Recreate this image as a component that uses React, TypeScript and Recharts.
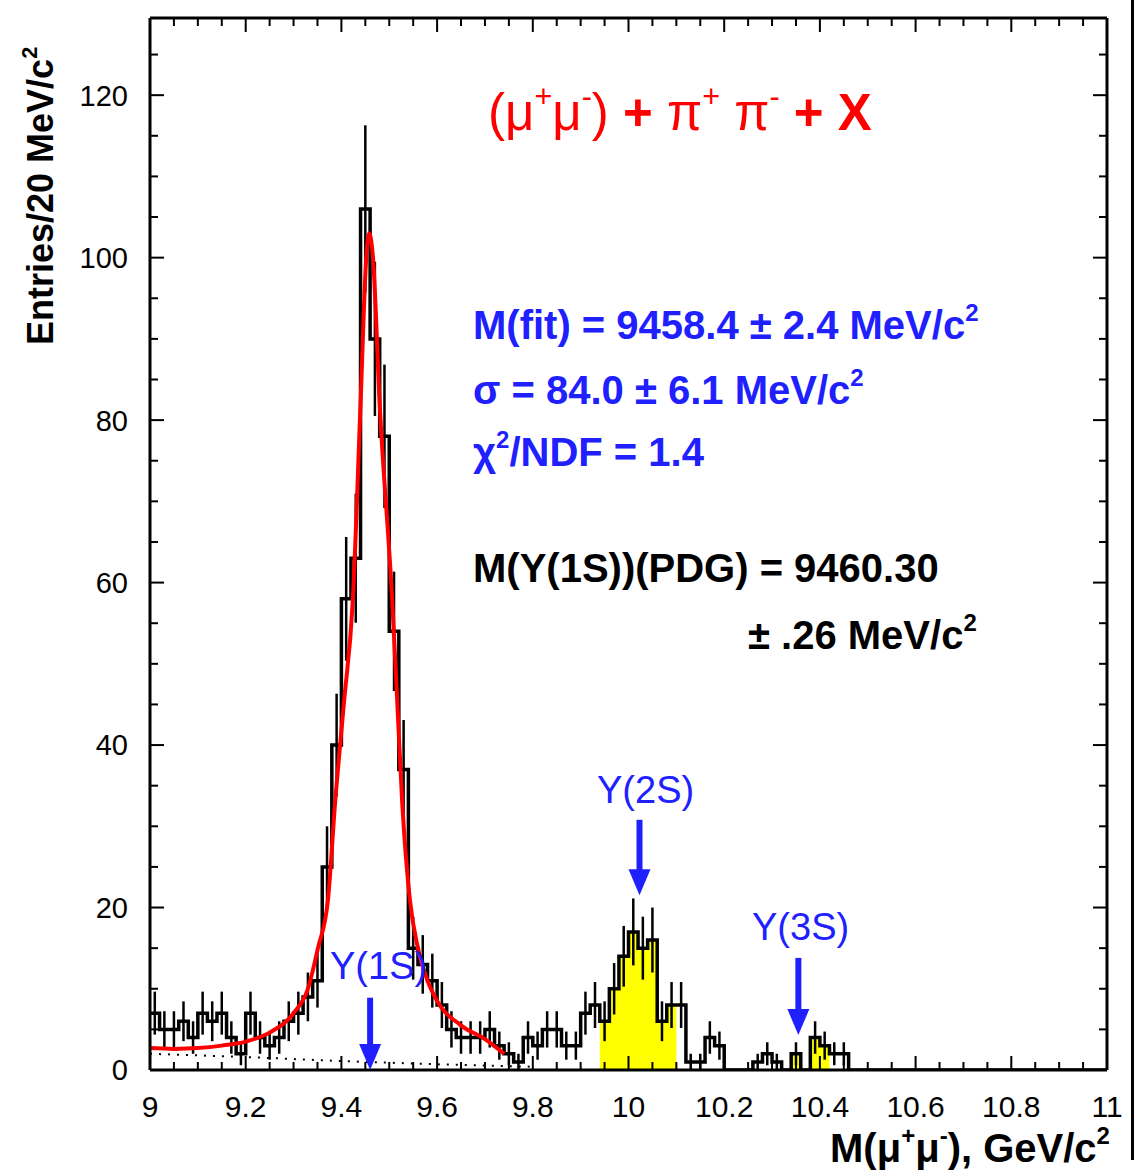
import React from 'react';
import { ComposedChart, Line, Area, XAxis, YAxis, ReferenceLine, ReferenceDot, ErrorBar } from 'recharts';

document.body.style.margin = '0';

// 20 MeV bins from 9.00 GeV
const BIN_LO = 9.0;
const BIN_W = 0.02;
const counts = [
  7, 5, 5, 6, 4, 7, 6, 7, 4, 2,
  7, 4, 3, 4, 6, 7, 9, 11, 25, 40,
  58, 63, 106, 90, 78, 54, 37, 15, 13, 11,
  8, 5, 4, 4, 4, 5, 3, 2, 1, 4,
  3, 5, 5, 3, 3, 7, 8, 6, 10, 14,
  17, 15, 16, 6, 8, 8, 1, 1, 4, 3,
  0, 0, 0, 1, 2, 1, 0, 2, 0, 4,
  3, 2, 2, 0, 0, 0, 0, 0, 0, 0,
  0, 0, 0, 0, 0, 0, 0, 0, 0, 0,
  0, 0, 0, 0, 0, 0, 0, 0, 0, 0,
];
// bins filled yellow (2S and 3S regions)
const yellowBins = [47, 48, 49, 50, 51, 52, 53, 54, 67, 68, 69, 70];

// red fit curve
const fitMass = [9.0, 9.05, 9.1, 9.15, 9.2, 9.25, 9.3, 9.33, 9.351, 9.372, 9.387, 9.405, 9.424, 9.44, 9.452, 9.458, 9.466, 9.48, 9.506, 9.517, 9.527, 9.543, 9.56, 9.58, 9.6, 9.65, 9.7, 9.74];
const fitValue = [2.7, 2.6, 2.7, 3.0, 3.5, 4.6, 7.0, 10, 15, 21, 33, 45, 58, 82, 100, 103, 100, 82, 58, 45, 33, 21, 15, 11, 8.5, 5.5, 3.8, 2.0];

// dotted background component
const bkgMass = [9.0, 9.2, 9.4, 9.6, 9.8];
const bkgValue = [2.0, 1.6, 1.1, 0.7, 0.4];

const xMajor = [9, 9.2, 9.4, 9.6, 9.8, 10, 10.2, 10.4, 10.6, 10.8, 11];
const yMajor = [0, 20, 40, 60, 80, 100, 120];

const peaks = [
  { name: 'Υ(1S)', mass: 9.46, top: 8.9, tip: 0 },
  { name: 'Υ(2S)', mass: 10.023, top: 30.8, tip: 21.5 },
  { name: 'Υ(3S)', mass: 10.355, top: 13.8, tip: 4.3 },
];

const W = 1141;
const H = 1171;
const M = { top: 18, right: 34, left: 0, bottom: 0 };
const Y_W = 150;
const X_H = 101;
const PLOT_W = W - M.right - Y_W;
const PLOT_H = H - M.top - X_H;
const Y_MAX = 129.5;
const BLUE = '#2020ff';
const FONT = '"Liberation Sans", Arial, sans-serif';

const histData = counts.map((v, i) => ({ x: +(BIN_LO + i * BIN_W).toFixed(2), y: v }));
histData.push({ x: 11, y: counts[counts.length - 1] });
const yellowData = counts.map((v, i) => ({ x: +(BIN_LO + i * BIN_W).toFixed(2), y: yellowBins.includes(i) ? v : 0 }));
yellowData.push({ x: 11, y: 0 });
const errData = counts
  .map((v, i) => ({ x: +(BIN_LO + (i + 0.5) * BIN_W).toFixed(3), y: v, err: Math.sqrt(v) }))
  .filter((d) => d.y > 0);
const fitData = fitMass.map((m, i) => ({ x: m, y: fitValue[i] }));
const bkgData = bkgMass.map((m, i) => ({ x: m, y: bkgValue[i] }));

const xTicks = Array.from({ length: 41 }, (_, i) => +(9 + i * 0.05).toFixed(2));
const yTicks = Array.from({ length: 26 }, (_, i) => i * 5);

const isMajor = (list: number[], v: number) => list.some((m) => Math.abs(m - v) < 1e-6);

function XTick(props: any) {
  const { x, y, payload } = props;
  const major = isMajor(xMajor, payload.value);
  const len = major ? 14 : 8;
  return (
    <g>
      <line x1={x} y1={y} x2={x} y2={y - len} stroke="#000" strokeWidth={2} />
      <line x1={x} y1={y - PLOT_H} x2={x} y2={y - PLOT_H + len} stroke="#000" strokeWidth={2} />
      {major && (
        <text x={x} y={y + 47} textAnchor="middle" fontSize={30} fontFamily={FONT} fill="#000">
          {String(+payload.value.toFixed(1))}
        </text>
      )}
    </g>
  );
}

function YTick(props: any) {
  const { x, y, payload } = props;
  const major = isMajor(yMajor, payload.value);
  const len = major ? 14 : 8;
  return (
    <g>
      <line x1={x} y1={y} x2={x + len} y2={y} stroke="#000" strokeWidth={2} />
      <line x1={x + PLOT_W} y1={y} x2={x + PLOT_W - len} y2={y} stroke="#000" strokeWidth={2} />
      {major && (
        <text x={x - 22} y={y} dy="0.36em" textAnchor="end" fontSize={29} fontFamily={FONT} fill="#000">
          {payload.value}
        </text>
      )}
    </g>
  );
}

const arrowHead = (props: any) => {
  const { cx, cy } = props;
  return <polygon points={`${cx - 11},${cy - 26} ${cx + 11},${cy - 26} ${cx},${cy}`} fill={BLUE} />;
};

const txt = (top: number, left: number, size: number, color: string, bold: boolean): React.CSSProperties => ({
  position: 'absolute',
  top,
  left,
  fontSize: size,
  lineHeight: 1,
  color,
  fontWeight: bold ? 'bold' : 'normal',
  fontFamily: FONT,
  whiteSpace: 'nowrap',
});

const sup: React.CSSProperties = { fontSize: '0.6em', verticalAlign: '0.75em', lineHeight: 0 };

export default function App() {
  return (
    <div style={{ position: 'relative', width: W, height: H, background: '#fff', overflow: 'hidden' }}>
      <ComposedChart width={W} height={H} margin={M}>
        <XAxis
          type="number"
          dataKey="x"
          domain={[9, 11]}
          ticks={xTicks}
          interval={0}
          allowDataOverflow
          height={X_H}
          tickSize={0}
          tickMargin={0}
          tickLine={false}
          tick={<XTick />}
          axisLine={{ stroke: '#000', strokeWidth: 3 }}
        />
        <YAxis
          type="number"
          domain={[0, Y_MAX]}
          ticks={yTicks}
          interval={0}
          allowDataOverflow
          width={Y_W}
          tickSize={0}
          tickMargin={0}
          tickLine={false}
          tick={<YTick />}
          axisLine={{ stroke: '#000', strokeWidth: 3 }}
        />
        <ReferenceLine y={Y_MAX} stroke="#000" strokeWidth={3} />
        <ReferenceLine x={11} stroke="#000" strokeWidth={3} />
        <Area
          data={yellowData}
          dataKey="y"
          type="stepAfter"
          fill="#ffff00"
          fillOpacity={1}
          stroke="none"
          isAnimationActive={false}
        />
        <Line
          data={bkgData}
          dataKey="y"
          type="linear"
          stroke="#000"
          strokeWidth={2}
          strokeDasharray="2 7"
          dot={false}
          isAnimationActive={false}
        />
        <Line
          data={histData}
          dataKey="y"
          type="stepAfter"
          stroke="#000"
          strokeWidth={3.5}
          dot={false}
          isAnimationActive={false}
        />
        <Line data={errData} dataKey="y" stroke="none" dot={false} isAnimationActive={false}>
          <ErrorBar dataKey="err" direction="y" width={0} stroke="#000" strokeWidth={2.5} />
        </Line>
        <Line
          data={fitData}
          dataKey="y"
          type="monotone"
          stroke="#ff0000"
          strokeWidth={4}
          dot={false}
          isAnimationActive={false}
        />
        {peaks.map((p) => (
          <ReferenceLine
            key={p.name + 'l'}
            segment={[{ x: p.mass, y: p.top }, { x: p.mass, y: p.tip + 2 }]}
            stroke={BLUE}
            strokeWidth={6}
          />
        ))}
        {peaks.map((p) => (
          <ReferenceDot key={p.name + 'h'} x={p.mass} y={p.tip} r={1} shape={arrowHead} />
        ))}
      </ComposedChart>

      <div style={txt(87, 488, 51, '#ff0000', false)}>
        (μ<span style={sup}>+</span>μ<span style={sup}>-</span>) <b>+</b> π<span style={sup}>+</span> π
        <span style={sup}>-</span> <b>+ X</b>
      </div>

      <div style={txt(305, 473, 40, BLUE, true)}>
        M(fit) = 9458.4 ± 2.4 MeV/c<span style={sup}>2</span>
      </div>
      <div style={txt(370, 473, 40, BLUE, true)}>
        σ = 84.0 ± 6.1 MeV/c<span style={sup}>2</span>
      </div>
      <div style={txt(432, 473, 40, BLUE, true)}>
        χ<span style={sup}>2</span>/NDF = 1.4
      </div>
      <div style={txt(548, 473, 40, '#000', true)}>M(Υ(1S))(PDG) = 9460.30</div>
      <div style={txt(615, 748, 40, '#000', true)}>
        ± .26 MeV/c<span style={sup}>2</span>
      </div>

      <div style={txt(947, 330, 38, BLUE, false)}>{peaks[0].name}</div>
      <div style={txt(771, 597, 38, BLUE, false)}>{peaks[1].name}</div>
      <div style={txt(908, 752, 38, BLUE, false)}>{peaks[2].name}</div>

      <div style={txt(1128, 830, 40, '#000', true)}>
        M(μ<span style={sup}>+</span>μ<span style={sup}>-</span>), GeV/c<span style={sup}>2</span>
      </div>

      <div
        style={{
          ...txt(345, 23, 36, '#000', true),
          transformOrigin: 'left top',
          transform: 'rotate(-90deg)',
        }}
      >
        Entries/20 MeV/c<span style={sup}>2</span>
      </div>

      <div style={{ position: 'absolute', left: 1131, top: 0, width: 3, height: 1160, background: '#000' }} />
    </div>
  );
}
